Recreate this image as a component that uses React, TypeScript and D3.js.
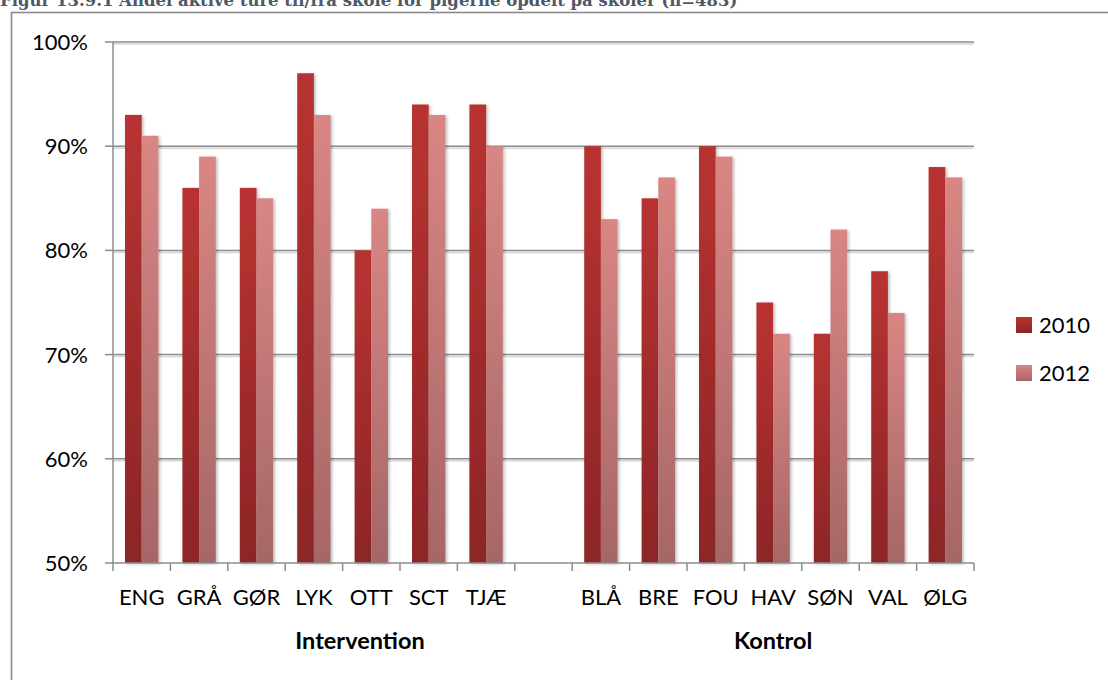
import React from "react";
import * as d3 from "d3";

const interventionSchools = ["ENG", "GRÅ", "GØR", "LYK", "OTT", "SCT", "TJÆ"];
const kontrolSchools = ["BLÅ", "BRE", "FOU", "HAV", "SØN", "VAL", "ØLG"];
const series = ["2010", "2012"];
const values2010 = [93, 86, 86, 97, 80, 94, 94, 90, 85, 90, 75, 72, 78, 88];
const values2012 = [91, 89, 85, 93, 84, 93, 90, 83, 87, 89, 72, 82, 74, 87];
const yTicks = [50, 60, 70, 80, 90, 100];
const groupLabels = ["Intervention", "Kontrol"];
const title = "Figur 13.9.1 Andel aktive ture til/fra skole for pigerne opdelt på skoler (n=483)";

const W = 1108;
const H = 680;
const plotLeft = 113;
const plotRight = 974;
const plotTop = 42;
const plotBottom = 563;
const FONT = "Lato, 'Open Sans', sans-serif";
const FS = 22;

export default function App() {
  const domain = [...interventionSchools, "__gap__", ...kontrolSchools];
  const schools = [...interventionSchools, ...kontrolSchools];
  const x = d3.scaleBand<string>().domain(domain).range([plotLeft, plotRight]).padding(0);
  const bw = x.bandwidth();
  const xSub = d3.scaleBand<string>().domain(series).range([0, bw]).paddingInner(0).paddingOuter(0.72);
  const y = d3.scaleLinear().domain([50, 100]).range([plotBottom, plotTop]);
  const seriesValues = [values2010, values2012];
  const fills = ["url(#g2010)", "url(#g2012)"];
  const boundaries = domain.map((d) => x(d) as number).concat([plotRight]);

  return (
    <svg width={W} height={H} style={{ position: "absolute", left: 0, top: 0, background: "#fff" }}>
      <defs>
        <linearGradient id="g2010" x1="0" y1="0" x2="0" y2="1">
          <stop offset="0" stopColor="#b93331" />
          <stop offset="1" stopColor="#8c2527" />
        </linearGradient>
        <linearGradient id="g2012" x1="0" y1="0" x2="0" y2="1">
          <stop offset="0" stopColor="#d98684" />
          <stop offset="1" stopColor="#a66666" />
        </linearGradient>
        <filter id="shadow" x="-30%" y="-10%" width="160%" height="120%">
          <feDropShadow dx="1.5" dy="1" stdDeviation="1.6" floodColor="#000" floodOpacity="0.28" />
        </filter>
      </defs>
      <rect x={0} y={0} width={W} height={H} fill="#fff" />
      <text x={0} y={6} fontFamily="'DejaVu Serif', serif" fontWeight="bold" fontSize={16.5} fill="#4d5964">
        {title}
      </text>
      <rect x={11.5} y={12.5} width={W} height={H} fill="none" stroke="#8a8a8a" strokeWidth={1.6} />

      {yTicks.map((t) => (
        <g key={t}>
          {t > 50 && (
            <>
              <line x1={plotLeft} x2={plotRight} y1={y(t) + 2} y2={y(t) + 2} stroke="#d6d6d6" strokeWidth={1.5} />
              <line x1={plotLeft} x2={plotRight} y1={y(t)} y2={y(t)} stroke="#8c8c8c" strokeWidth={1.5} />
            </>
          )}
          <line x1={plotLeft - 8} x2={plotLeft} y1={y(t)} y2={y(t)} stroke="#8c8c8c" strokeWidth={1.5} />
          <text x={88} y={y(t)} dy="0.36em" textAnchor="end" fontFamily={FONT} fontSize={FS} fill="#000">
            {t}%
          </text>
        </g>
      ))}

      {seriesValues.map((vals, si) =>
        schools.map((s, i) => {
          const x0 = (x(s) as number) + (xSub(series[si]) as number);
          return (
            <rect
              key={series[si] + s}
              x={x0}
              y={y(vals[i])}
              width={xSub.bandwidth()}
              height={plotBottom - y(vals[i])}
              fill={fills[si]}
              filter="url(#shadow)"
            />
          );
        })
      )}

      <line x1={plotLeft} x2={plotLeft} y1={plotTop} y2={plotBottom} stroke="#8c8c8c" strokeWidth={1.5} />
      <line x1={plotLeft} x2={plotRight} y1={plotBottom} y2={plotBottom} stroke="#8c8c8c" strokeWidth={1.5} />
      {boundaries.map((bx, i) => (
        <line key={i} x1={bx} x2={bx} y1={plotBottom} y2={plotBottom + 8} stroke="#8c8c8c" strokeWidth={1.5} />
      ))}

      {schools.map((s) => (
        <text
          key={s}
          x={(x(s) as number) + bw / 2}
          y={597}
          dy="0.36em"
          textAnchor="middle"
          fontFamily={FONT}
          fontSize={FS}
          fill="#000"
        >
          {s}
        </text>
      ))}

      <text x={360} y={641} dy="0.36em" textAnchor="middle" fontFamily={FONT} fontWeight="bold" fontSize={23.5} fill="#000">
        {groupLabels[0]}
      </text>
      <text
        x={((x(kontrolSchools[0]) as number) + plotRight) / 2}
        y={641}
        dy="0.36em"
        textAnchor="middle"
        fontFamily={FONT}
        fontWeight="bold"
        fontSize={23.5}
        fill="#000"
      >
        {groupLabels[1]}
      </text>

      {series.map((s, i) => (
        <g key={s} transform={`translate(1016, ${317 + i * 48})`}>
          <rect x={0} y={0} width={16} height={16} fill={fills[i]} />
          <text x={23} y={8} dy="0.36em" fontFamily={FONT} fontSize={FS} fill="#000">
            {s}
          </text>
        </g>
      ))}
    </svg>
  );
}
